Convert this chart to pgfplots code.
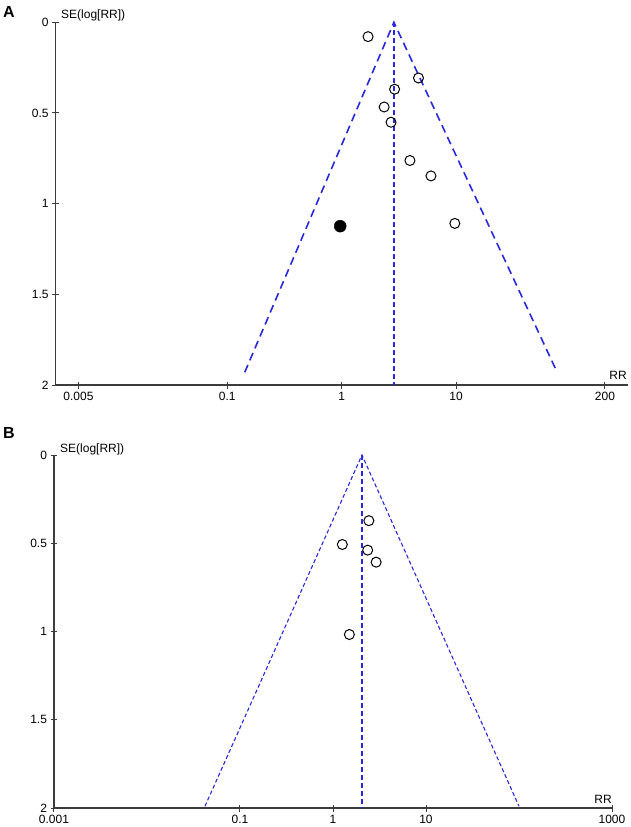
\documentclass[border=0pt]{standalone}
\usepackage{fontspec}
\setmainfont{Liberation Sans}
\usepackage{pgfplots}
\pgfplotsset{compat=1.18}
\definecolor{fblue}{RGB}{40,40,220}
\definecolor{axgray}{RGB}{60,60,60}

\begin{document}
\begin{tikzpicture}
\useasboundingbox (0,0) rectangle (630pt,-827pt);

% panel A
\begin{axis}[
  scale only axis, xmode=log, y dir=reverse,
  ymin=0, ymax=2,
  axis x line=bottom, axis y line=left,
  axis line style={-, line width=1.2pt, axgray},
  tick align=center, major tick length=7pt,
  tick style={axgray, line width=1pt},
  minor tick num=0,
  ytick={0,0.5,1,1.5,2}, yticklabels={0,0.5,1,1.5,2},
  ticklabel style={font=\fontsize{12}{14}\selectfont},
  clip=false,
  at={(55.7pt,-22.3pt)}, anchor=north west,
  width=572pt, height=362.7pt,
  xmin=0.0031623, xmax=316.23,
  xtick={0.005,0.1,1,10,200}, xticklabels={0.005,0.1,1,10,200},
  minor xtick={},
]
\addplot[mark=none, color=fblue, line width=1.6pt, dash pattern=on 8pt off 5pt]
  coordinates {(0.142,1.93) (2.86,0) (76.5,1.93)};
\addplot[mark=none, color=fblue, line width=1.3pt, dash pattern=on 5pt off 3pt]
  coordinates {(2.86,0.001) (2.86,1.999)};
\addplot[only marks, mark=o, mark size=5pt, mark options={line width=1pt}, black]
  coordinates {(1.70,0.079) (4.69,0.307) (2.90,0.369) (2.35,0.467) (2.70,0.551)
               (3.95,0.762) (6.03,0.847) (9.75,1.109)};
\addplot[only marks, mark=*, mark size=6pt, black]
  coordinates {(0.97,1.124)};
\end{axis}

% panel B
\begin{axis}[
  scale only axis, xmode=log, y dir=reverse,
  ymin=0, ymax=2,
  axis x line=bottom, axis y line=left,
  axis line style={-, line width=1.2pt, axgray},
  tick align=center, major tick length=7pt,
  tick style={axgray, line width=1pt},
  minor tick num=0,
  ytick={0,0.5,1,1.5,2}, yticklabels={0,0.5,1,1.5,2},
  ticklabel style={font=\fontsize{12}{14}\selectfont},
  clip=false,
  at={(54pt,-455pt)}, anchor=north west,
  width=558pt, height=353pt,
  xmin=0.001, xmax=1000,
  xtick={0.001,0.1,1,10,1000}, xticklabels={0.001,0.1,1,10,1000},
  minor xtick={},
]
\addplot[mark=none, color=fblue, line width=1.1pt, dash pattern=on 4pt off 2.5pt]
  coordinates {(0.042,1.99) (2.05,0) (100,1.99)};
\addplot[mark=none, color=fblue, line width=1.3pt, dash pattern=on 5pt off 3pt]
  coordinates {(2.05,0.001) (2.05,1.999)};
\addplot[only marks, mark=o, mark size=5pt, mark options={line width=1pt}, black]
  coordinates {(2.43,0.372) (1.26,0.507) (2.36,0.539) (2.91,0.607) (1.50,1.017)};
\end{axis}

\node[anchor=base west, font=\fontsize{16}{18}\selectfont\bfseries, inner sep=0pt] at (3pt,-17.5pt) {A};
\node[anchor=base west, font=\fontsize{12}{14}\selectfont, inner sep=0pt] at (61pt,-19pt) {SE(log[RR])};
\node[anchor=base east, font=\fontsize{12}{14}\selectfont, inner sep=0pt] at (627pt,-379pt) {RR};

\node[anchor=base west, font=\fontsize{16}{18}\selectfont\bfseries, inner sep=0pt] at (3pt,-438pt) {B};
\node[anchor=base west, font=\fontsize{12}{14}\selectfont, inner sep=0pt] at (60pt,-452pt) {SE(log[RR])};
\node[anchor=base east, font=\fontsize{12}{14}\selectfont, inner sep=0pt] at (612pt,-803pt) {RR};
\end{tikzpicture}
\end{document}
